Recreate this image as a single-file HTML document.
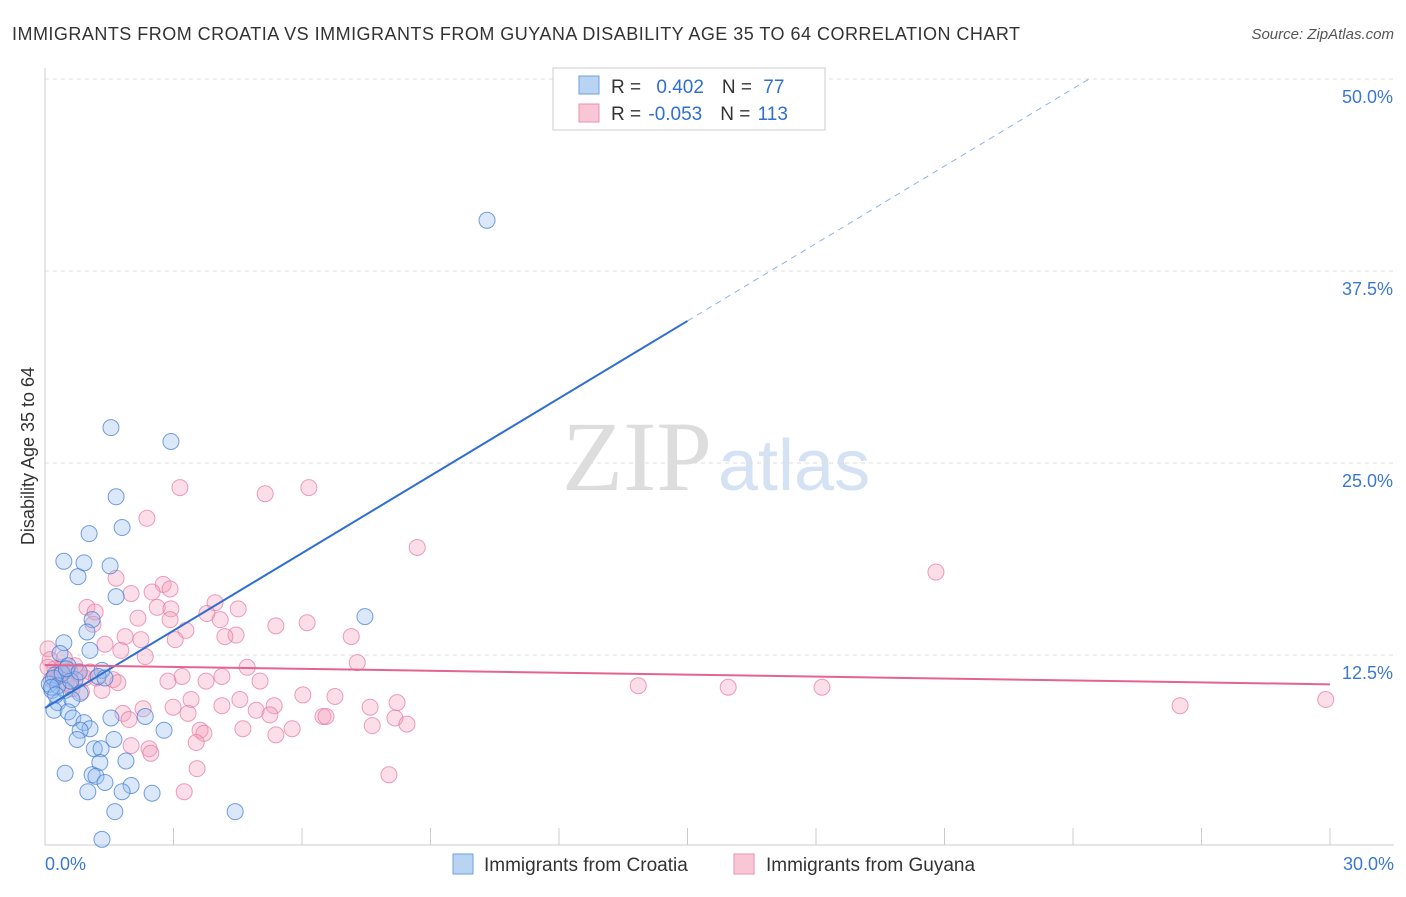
<!DOCTYPE html>
<html><head><meta charset="utf-8"><style>
body{margin:0;background:#fff;font-family:"Liberation Sans",sans-serif}
</style></head><body>
<svg id="c" width="1406" height="892" xmlns="http://www.w3.org/2000/svg" font-family="Liberation Sans, sans-serif">
<text x="12" y="40" font-size="18" fill="#333" textLength="1008">IMMIGRANTS FROM CROATIA VS IMMIGRANTS FROM GUYANA DISABILITY AGE 35 TO 64 CORRELATION CHART</text>
<text x="1394" y="39" font-size="15" fill="#555" font-style="italic" text-anchor="end">Source: ZipAtlas.com</text>
<text x="712" y="490" font-size="100" fill="#ddd" style="font-family:'Liberation Serif',serif" text-anchor="end">ZIP</text>
<text x="718" y="490" font-size="72" fill="#d4e2f4">atlas</text>
<text transform="translate(34,456) rotate(-90)" font-size="18" fill="#333" text-anchor="middle">Disability Age 35 to 64</text>
<g id="grid"></g><g id="axes"></g><g id="pts"></g><g id="lines"></g>
<g>
<rect x="553" y="68" width="272" height="62" fill="#fff" stroke="#ccc"/>
<rect x="579" y="76" width="20" height="18" fill="#b9d3f3" stroke="#6fa0dd"/>
<rect x="579" y="104" width="20" height="18" fill="#f9c6d6" stroke="#e990ad"/>
<text x="611" y="93" font-size="19" fill="#333">R = <tspan fill="#2f6fd0" dx="10">0.402</tspan><tspan dx="18" fill="#333">N = </tspan><tspan fill="#2f6fd0" dx="6">77</tspan></text>
<text x="611" y="120" font-size="19" fill="#333">R = <tspan fill="#2f6fd0" dx="2">-0.053</tspan><tspan dx="18" fill="#333">N = </tspan><tspan fill="#2f6fd0" dx="2">113</tspan></text>
</g>
<g>
<rect x="453" y="854" width="20" height="20" fill="#b9d3f3" stroke="#6fa0dd"/>
<text x="484" y="871" font-size="19" fill="#333">Immigrants from Croatia</text>
<rect x="734" y="854" width="20" height="20" fill="#f9c6d6" stroke="#e990ad"/>
<text x="766" y="871" font-size="19" fill="#333">Immigrants from Guyana</text>
</g>
</svg>
<script>
const xTicks=[0,30];
const yTicks=[12.5,25,37.5,50];
const yTickLabels=["12.5%","25.0%","37.5%","50.0%"];
const blueX=[10.32,1.54,2.94,1.66,1.03,1.80,0.44,0.91,1.52,0.77,1.66,7.47,1.10,0.98,0.44,1.05,0.35,0.54,1.33,0.23,0.70,1.24,0.16,0.47,0.82,0.30,0.63,0.21,0.54,0.65,0.91,1.54,2.34,1.05,0.82,0.75,2.78,1.61,1.15,1.31,1.89,1.28,0.47,1.10,1.19,1.40,2.01,1.0,1.80,2.50,1.63,4.44,1.33,0.1,0.2,0.3,0.4,0.6,0.15,0.5,0.25,0.8,1.4];
const blueY=[40.8,27.3,26.4,22.8,20.4,20.8,18.6,18.5,18.3,17.6,16.3,15.0,14.8,14.0,13.3,12.8,12.6,11.8,11.5,11.2,10.9,11.1,10.2,10.2,10.0,9.4,9.6,8.9,8.8,8.4,8.1,8.4,8.5,7.7,7.6,7.0,7.6,7.0,6.4,6.4,5.6,5.5,4.8,4.7,4.6,4.2,4.0,3.6,3.6,3.5,2.3,2.3,0.5,10.6,11.0,10.5,11.3,10.8,10.4,11.6,9.9,11.4,11.0];
const pinkX=[3.15,5.14,6.16,2.38,8.69,20.8,1.66,2.76,2.92,2.50,2.01,3.97,0.98,2.62,4.51,2.94,3.78,1.17,2.17,4.09,2.92,1.12,5.39,6.12,3.29,4.46,1.87,4.20,7.15,2.24,3.04,1.40,0.07,1.77,2.34,7.29,4.72,3.20,4.13,1.59,1.70,2.87,5.02,3.76,13.85,15.95,18.14,1.33,6.02,6.77,4.55,3.41,4.13,5.35,7.59,8.22,26.5,29.9,2.29,2.99,4.93,3.34,1.82,6.49,6.56,1.96,5.25,8.17,8.45,7.64,5.77,3.62,4.62,3.71,5.39,3.53,2.01,2.43,2.47,3.55,8.03,3.25,0.12,0.23,0.40,0.58,0.77,0.93,0.30,0.49,0.63,0.07,1.05,0.70,0.35,0.15,0.55,0.85,1.2,0.45];
const pinkY=[23.4,23.0,23.4,21.4,19.5,17.9,17.5,17.1,16.8,16.6,16.5,15.9,15.6,15.6,15.5,15.5,15.2,15.3,14.9,14.8,14.8,14.5,14.4,14.6,14.1,13.8,13.7,13.7,13.7,13.5,13.5,13.2,12.9,12.8,12.4,12.0,11.7,11.1,11.1,10.9,10.7,10.8,10.8,10.8,10.5,10.4,10.4,10.2,9.9,9.8,9.6,9.6,9.2,9.2,9.1,9.4,9.2,9.6,9.0,9.1,8.9,8.7,8.7,8.5,8.5,8.3,8.6,8.4,8.0,7.9,7.7,7.6,7.7,7.4,7.3,6.8,6.6,6.4,6.1,5.1,4.7,3.6,12.2,11.6,11.7,11.5,11.3,11.0,11.1,10.7,10.3,11.7,11.4,11.8,11.2,10.9,10.6,10.1,11.0,12.3];
const blueLine=[9.05,1.68];   // y at x=0, slope
const pinkLine=[11.85,-0.042];
const X0=45,X1=1330,YB=847,PXY=192/12.5;
const sx=v=>X0+(X1-X0)*v/30, sy=v=>YB-v*PXY;
const NS="http://www.w3.org/2000/svg";
function mk(t,a,p){const e=document.createElementNS(NS,t);for(const k in a)e.setAttribute(k,a[k]);document.getElementById(p).appendChild(e);return e;}
yTicks.forEach((t,i)=>{
 const g=mk("line",{x1:X0,x2:1394,y1:sy(t),y2:sy(t),stroke:"#ddd","stroke-dasharray":"4,4"},"grid");
 
 
 const l=mk("text",{x:1393,y:sy(t)+24,"font-size":18,fill:"#3b78d0","text-anchor":"end"},"grid");
 l.textContent=yTickLabels[i];
 
 
});
const ax=mk("line",{x1:X0,x2:X0,y1:68,y2:845,stroke:"#ccc"},"axes");


const bx=mk("line",{x1:X0,x2:1394,y1:845,y2:845,stroke:"#ccc"},"axes");


for(let i=0;i<=10;i++){const t=mk("line",{x1:sx(i*3),x2:sx(i*3),y1:828,y2:845,stroke:"#ccc"},"axes");
 
 }
xTicks.forEach((t,i)=>{const l=mk("text",{x:i?1394:45,y:870,"font-size":18,fill:"#3b78d0","text-anchor":i?"end":"start"},"axes");
 l.textContent=t.toFixed(1)+"%";
 
 });
pinkX.forEach((x,i)=>{const c=mk("circle",{cx:sx(x),cy:sy(pinkY[i]),r:8,fill:"rgba(244,160,188,0.35)",stroke:"rgba(230,120,160,0.7)","stroke-width":1},"pts");
 
 });
blueX.forEach((x,i)=>{const c=mk("circle",{cx:sx(x),cy:sy(blueY[i]),r:8,fill:"rgba(150,190,240,0.35)",stroke:"rgba(60,120,210,0.7)","stroke-width":1},"pts");
 
 });
const bxEnd=(50-blueLine[0])/blueLine[1];
const b1=mk("line",{x1:sx(0),y1:sy(blueLine[0]),x2:sx(15),y2:sy(blueLine[0]+blueLine[1]*15),stroke:"#2f6fd0","stroke-width":2},"lines");


const b2=mk("line",{x1:sx(15),y1:sy(blueLine[0]+blueLine[1]*15),x2:sx(bxEnd),y2:sy(50),stroke:"#8fb3e6","stroke-width":1,"stroke-dasharray":"6,5"},"lines");


const p1=mk("line",{x1:sx(0),y1:sy(pinkLine[0]),x2:sx(30),y2:sy(pinkLine[0]+pinkLine[1]*30),stroke:"#e4648f","stroke-width":2},"lines");


</script>
</body></html>
